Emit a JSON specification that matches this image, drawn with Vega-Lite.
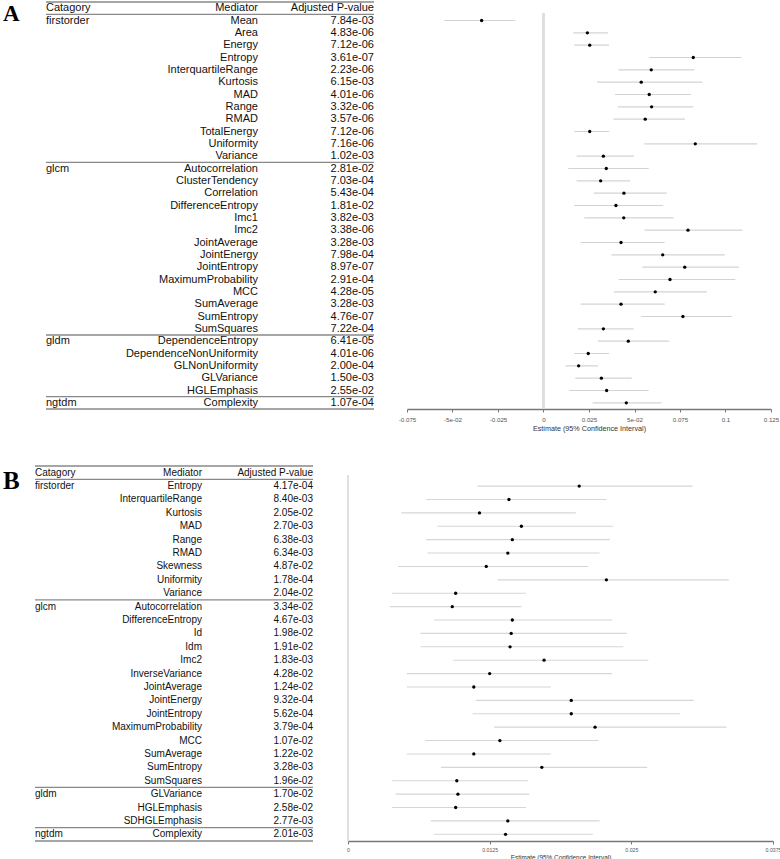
{
  "$schema": "https://vega.github.io/schema/vega-lite/v6.json",
  "padding": {"left": 2, "top": 1, "right": 0, "bottom": 0},
  "background": "white",
  "config": {"view": {"stroke": null}, "font": "Liberation Sans"},
  "datasets": {
    "A": [
      {"row": 1, "cat": "firstorder", "med": "Mean", "p": "7.84e-03", "est": -0.034, "lo": -0.0545, "hi": -0.0155},
      {"row": 2, "cat": "", "med": "Area", "p": "4.83e-06", "est": 0.0241, "lo": 0.0164, "hi": 0.0354},
      {"row": 3, "cat": "", "med": "Energy", "p": "7.12e-06", "est": 0.0254, "lo": 0.0169, "hi": 0.036},
      {"row": 4, "cat": "", "med": "Entropy", "p": "3.61e-07", "est": 0.0823, "lo": 0.0581, "hi": 0.1087},
      {"row": 5, "cat": "", "med": "InterquartileRange", "p": "2.23e-06", "est": 0.0592, "lo": 0.0411, "hi": 0.0829},
      {"row": 6, "cat": "", "med": "Kurtosis", "p": "6.15e-03", "est": 0.0537, "lo": 0.0294, "hi": 0.0873},
      {"row": 7, "cat": "", "med": "MAD", "p": "4.01e-06", "est": 0.0581, "lo": 0.0393, "hi": 0.081},
      {"row": 8, "cat": "", "med": "Range", "p": "3.32e-06", "est": 0.0594, "lo": 0.0408, "hi": 0.0823},
      {"row": 9, "cat": "", "med": "RMAD", "p": "3.57e-06", "est": 0.0559, "lo": 0.0384, "hi": 0.0777},
      {"row": 10, "cat": "", "med": "TotalEnergy", "p": "7.12e-06", "est": 0.0254, "lo": 0.0169, "hi": 0.036},
      {"row": 11, "cat": "", "med": "Uniformity", "p": "7.16e-06", "est": 0.0834, "lo": 0.0554, "hi": 0.1173},
      {"row": 12, "cat": "", "med": "Variance", "p": "1.02e-03", "est": 0.0329, "lo": 0.0182, "hi": 0.0497},
      {"row": 13, "cat": "glcm", "med": "Autocorrelation", "p": "2.81e-02", "est": 0.0345, "lo": 0.0136, "hi": 0.0578},
      {"row": 14, "cat": "", "med": "ClusterTendency", "p": "7.03e-04", "est": 0.0314, "lo": 0.0182, "hi": 0.0477},
      {"row": 15, "cat": "", "med": "Correlation", "p": "5.43e-04", "est": 0.0442, "lo": 0.0277, "hi": 0.0677},
      {"row": 16, "cat": "", "med": "DifferenceEntropy", "p": "1.81e-02", "est": 0.0398, "lo": 0.0168, "hi": 0.0658},
      {"row": 17, "cat": "", "med": "Imc1", "p": "3.82e-03", "est": 0.0441, "lo": 0.0224, "hi": 0.0715},
      {"row": 18, "cat": "", "med": "Imc2", "p": "3.38e-06", "est": 0.0794, "lo": 0.0556, "hi": 0.1094},
      {"row": 19, "cat": "", "med": "JointAverage", "p": "3.28e-03", "est": 0.0426, "lo": 0.0204, "hi": 0.0666},
      {"row": 20, "cat": "", "med": "JointEnergy", "p": "7.98e-04", "est": 0.0655, "lo": 0.0373, "hi": 0.0996},
      {"row": 21, "cat": "", "med": "JointEntropy", "p": "8.97e-07", "est": 0.0776, "lo": 0.0543, "hi": 0.1074},
      {"row": 22, "cat": "", "med": "MaximumProbability", "p": "2.91e-04", "est": 0.0695, "lo": 0.0413, "hi": 0.1054},
      {"row": 23, "cat": "", "med": "MCC", "p": "4.28e-05", "est": 0.0614, "lo": 0.0386, "hi": 0.0898},
      {"row": 24, "cat": "", "med": "SumAverage", "p": "3.28e-03", "est": 0.0426, "lo": 0.0204, "hi": 0.0666},
      {"row": 25, "cat": "", "med": "SumEntropy", "p": "4.76e-07", "est": 0.0766, "lo": 0.0537, "hi": 0.1037},
      {"row": 26, "cat": "", "med": "SumSquares", "p": "7.22e-04", "est": 0.0329, "lo": 0.0188, "hi": 0.0495},
      {"row": 27, "cat": "gldm", "med": "DependenceEntropy", "p": "6.41e-05", "est": 0.0466, "lo": 0.0299, "hi": 0.0691},
      {"row": 28, "cat": "", "med": "DependenceNonUniformity", "p": "4.01e-06", "est": 0.0246, "lo": 0.0168, "hi": 0.036},
      {"row": 29, "cat": "", "med": "GLNonUniformity", "p": "2.00e-04", "est": 0.0193, "lo": 0.012, "hi": 0.0299},
      {"row": 30, "cat": "", "med": "GLVariance", "p": "1.50e-03", "est": 0.0318, "lo": 0.0175, "hi": 0.0485},
      {"row": 31, "cat": "", "med": "HGLEmphasis", "p": "2.55e-02", "est": 0.0347, "lo": 0.0142, "hi": 0.0578},
      {"row": 32, "cat": "ngtdm", "med": "Complexity", "p": "1.07e-04", "est": 0.0455, "lo": 0.027, "hi": 0.0649}
    ],
    "B": [
      {"row": 1, "cat": "firstorder", "med": "Entropy", "p": "4.17e-04", "est": 0.0204, "lo": 0.0114, "hi": 0.0304},
      {"row": 2, "cat": "", "med": "InterquartileRange", "p": "8.40e-03", "est": 0.0142, "lo": 0.0069, "hi": 0.0228},
      {"row": 3, "cat": "", "med": "Kurtosis", "p": "2.05e-02", "est": 0.0116, "lo": 0.0047, "hi": 0.0201},
      {"row": 4, "cat": "", "med": "MAD", "p": "2.70e-03", "est": 0.0153, "lo": 0.0079, "hi": 0.0234},
      {"row": 5, "cat": "", "med": "Range", "p": "6.38e-03", "est": 0.0145, "lo": 0.0069, "hi": 0.0231},
      {"row": 6, "cat": "", "med": "RMAD", "p": "6.34e-03", "est": 0.0141, "lo": 0.007, "hi": 0.0222},
      {"row": 7, "cat": "", "med": "Skewness", "p": "4.87e-02", "est": 0.0122, "lo": 0.0044, "hi": 0.0212},
      {"row": 8, "cat": "", "med": "Uniformity", "p": "1.78e-04", "est": 0.0228, "lo": 0.0132, "hi": 0.0336},
      {"row": 9, "cat": "", "med": "Variance", "p": "2.04e-02", "est": 0.0095, "lo": 0.0039, "hi": 0.0157},
      {"row": 10, "cat": "glcm", "med": "Autocorrelation", "p": "3.34e-02", "est": 0.0092, "lo": 0.0037, "hi": 0.0153},
      {"row": 11, "cat": "", "med": "DifferenceEntropy", "p": "4.67e-03", "est": 0.0145, "lo": 0.0076, "hi": 0.0233},
      {"row": 12, "cat": "", "med": "Id", "p": "1.98e-02", "est": 0.0144, "lo": 0.0064, "hi": 0.0246},
      {"row": 13, "cat": "", "med": "Idm", "p": "1.91e-02", "est": 0.0143, "lo": 0.0064, "hi": 0.0243},
      {"row": 14, "cat": "", "med": "Imc2", "p": "1.83e-03", "est": 0.0173, "lo": 0.0093, "hi": 0.0265},
      {"row": 15, "cat": "", "med": "InverseVariance", "p": "4.28e-02", "est": 0.0125, "lo": 0.0052, "hi": 0.0233},
      {"row": 16, "cat": "", "med": "JointAverage", "p": "1.24e-02", "est": 0.0111, "lo": 0.0052, "hi": 0.0179},
      {"row": 17, "cat": "", "med": "JointEnergy", "p": "9.32e-04", "est": 0.0197, "lo": 0.0113, "hi": 0.0305},
      {"row": 18, "cat": "", "med": "JointEntropy", "p": "5.62e-04", "est": 0.0197, "lo": 0.011, "hi": 0.0293},
      {"row": 19, "cat": "", "med": "MaximumProbability", "p": "3.79e-04", "est": 0.0218, "lo": 0.0129, "hi": 0.0334},
      {"row": 20, "cat": "", "med": "MCC", "p": "1.07e-02", "est": 0.0134, "lo": 0.0068, "hi": 0.0221},
      {"row": 21, "cat": "", "med": "SumAverage", "p": "1.22e-02", "est": 0.0111, "lo": 0.0052, "hi": 0.0179},
      {"row": 22, "cat": "", "med": "SumEntropy", "p": "3.28e-03", "est": 0.0171, "lo": 0.0082, "hi": 0.0264},
      {"row": 23, "cat": "", "med": "SumSquares", "p": "1.96e-02", "est": 0.0096, "lo": 0.0039, "hi": 0.0159},
      {"row": 24, "cat": "gldm", "med": "GLVariance", "p": "1.70e-02", "est": 0.0097, "lo": 0.0042, "hi": 0.016},
      {"row": 25, "cat": "", "med": "HGLEmphasis", "p": "2.58e-02", "est": 0.0095, "lo": 0.0039, "hi": 0.0157},
      {"row": 26, "cat": "", "med": "SDHGLEmphasis", "p": "2.77e-03", "est": 0.0141, "lo": 0.0073, "hi": 0.0222},
      {"row": 27, "cat": "ngtdm", "med": "Complexity", "p": "2.01e-03", "est": 0.0139, "lo": 0.0076, "hi": 0.0216}
    ],
    "sepA": [{"y": -0.5}, {"y": 0.5}, {"y": 12.5}, {"y": 26.5}, {"y": 31.5}, {"y": 32.5}],
    "sepB": [{"y": -0.5}, {"y": 0.5}, {"y": 9.5}, {"y": 23.5}, {"y": 26.5}, {"y": 27.5}]
  },
  "bounds": "full",
  "spacing": 33,
  "resolve": {"scale": {"x": "independent", "y": "independent"}},
  "vconcat": [
    {
      "bounds": "flush",
      "spacing": 33,
      "resolve": {"scale": {"x": "independent", "y": "independent"}},
      "hconcat": [
        {
          "width": 339,
          "height": 407,
          "layer": [
            {
              "data": {"name": "sepA"},
              "mark": {"type": "rule", "stroke": "#888888", "strokeWidth": 1.3},
              "encoding": {
                "y": {"field": "y", "type": "quantitative", "scale": {"domain": [-0.5, 32.5], "reverse": true, "nice": false, "zero": false}, "axis": null},
                "x": {"datum": 0.0324, "type": "quantitative", "scale": {"domain": [0, 1], "nice": false, "zero": false}, "axis": null},
                "x2": {"datum": 1}
              }
            },
            {
              "data": {"name": "A"},
              "mark": {"type": "text", "align": "left", "baseline": "middle", "fontSize": 11, "color": "#111111"},
              "encoding": {
                "y": {"field": "row", "type": "quantitative", "scale": {"domain": [-0.5, 32.5], "reverse": true, "nice": false, "zero": false}, "axis": null},
                "x": {"datum": 0.0324, "type": "quantitative", "scale": {"domain": [0, 1], "nice": false, "zero": false}, "axis": null},
                "text": {"field": "cat"}
              }
            },
            {
              "data": {"name": "A"},
              "mark": {"type": "text", "align": "right", "baseline": "middle", "fontSize": 11, "color": "#111111"},
              "encoding": {
                "y": {"field": "row", "type": "quantitative", "scale": {"domain": [-0.5, 32.5], "reverse": true, "nice": false, "zero": false}, "axis": null},
                "x": {"datum": 0.6578, "type": "quantitative", "scale": {"domain": [0, 1], "nice": false, "zero": false}, "axis": null},
                "text": {"field": "med"}
              }
            },
            {
              "data": {"name": "A"},
              "mark": {"type": "text", "align": "right", "baseline": "middle", "fontSize": 11, "color": "#111111"},
              "encoding": {
                "y": {"field": "row", "type": "quantitative", "scale": {"domain": [-0.5, 32.5], "reverse": true, "nice": false, "zero": false}, "axis": null},
                "x": {"datum": 1, "type": "quantitative", "scale": {"domain": [0, 1], "nice": false, "zero": false}, "axis": null},
                "text": {"field": "p"}
              }
            },
            {
              "data": {"values": [{"h": "Catagory"}]},
              "mark": {"type": "text", "align": "left", "baseline": "middle", "fontSize": 11, "color": "#111111"},
              "encoding": {
                "y": {"datum": 0, "type": "quantitative", "scale": {"domain": [-0.5, 32.5], "reverse": true, "nice": false, "zero": false}, "axis": null},
                "x": {"datum": 0.0324, "type": "quantitative", "scale": {"domain": [0, 1], "nice": false, "zero": false}, "axis": null},
                "text": {"value": "Catagory"}
              }
            },
            {
              "data": {"values": [{"h": "Mediator"}]},
              "mark": {"type": "text", "align": "right", "baseline": "middle", "fontSize": 11, "color": "#111111"},
              "encoding": {
                "y": {"datum": 0, "type": "quantitative", "scale": {"domain": [-0.5, 32.5], "reverse": true, "nice": false, "zero": false}, "axis": null},
                "x": {"datum": 0.6578, "type": "quantitative", "scale": {"domain": [0, 1], "nice": false, "zero": false}, "axis": null},
                "text": {"value": "Mediator"}
              }
            },
            {
              "data": {"values": [{"h": "Adjusted P-value"}]},
              "mark": {"type": "text", "align": "right", "baseline": "middle", "fontSize": 11, "color": "#111111"},
              "encoding": {
                "y": {"datum": 0, "type": "quantitative", "scale": {"domain": [-0.5, 32.5], "reverse": true, "nice": false, "zero": false}, "axis": null},
                "x": {"datum": 1, "type": "quantitative", "scale": {"domain": [0, 1], "nice": false, "zero": false}, "axis": null},
                "text": {"value": "Adjusted P-value"}
              }
            },
            {
              "data": {"values": [{"h": "A"}]},
              "mark": {"type": "text", "align": "left", "baseline": "alphabetic", "fontSize": 23, "font": "Liberation Serif", "fontWeight": "bold", "color": "#000000"},
              "encoding": {
                "y": {"datum": 1, "type": "quantitative", "scale": {"domain": [-0.5, 32.5], "reverse": true, "nice": false, "zero": false}, "axis": null},
                "x": {"datum": -0.0944, "type": "quantitative", "scale": {"domain": [0, 1], "nice": false, "zero": false}, "axis": null},
                "text": {"value": "A"}
              }
            }
          ]
        },
        {
          "width": 364,
          "height": 407,
          "data": {"name": "A"},
          "layer": [
            {
              "mark": {"type": "rule", "stroke": "#dddddd", "strokeWidth": 1.5},
              "encoding": {
                "x": {"datum": 0, "type": "quantitative", "scale": {"domain": [-0.075, 0.125], "nice": false, "zero": false},
                  "axis": {"values": [-0.075, -0.05, -0.025, 0, 0.025, 0.05, 0.075, 0.1, 0.125], "labelExpr": "datum.value == 0.05 ? '5e-02' : datum.value == -0.05 ? '-5e-02' : '' + datum.value", "title": "Estimate (95% Confidence Interval)", "grid": false, "tickSize": 3, "domainColor": "#777777", "domainWidth": 1.3, "tickColor": "#777777", "labelColor": "#555555", "labelFontSize": 6.2, "labelPadding": 4, "titleFontSize": 7.2, "titleFontWeight": "normal", "titleColor": "#333333", "titlePadding": 2, "labelFlush": false, "labelOverlap": false}},
                "y": {"datum": 0.45, "type": "quantitative", "scale": {"domain": [-0.5, 32.5], "reverse": true, "nice": false, "zero": false}, "axis": null},
                "y2": {"datum": 32.5}
              }
            },
            {
              "mark": {"type": "rule", "stroke": "#d3d3d3", "strokeWidth": 1.1},
              "encoding": {
                "x": {"field": "lo", "type": "quantitative", "scale": {"domain": [-0.075, 0.125], "nice": false, "zero": false},
                  "axis": {"values": [-0.075, -0.05, -0.025, 0, 0.025, 0.05, 0.075, 0.1, 0.125], "labelExpr": "datum.value == 0.05 ? '5e-02' : datum.value == -0.05 ? '-5e-02' : '' + datum.value", "title": "Estimate (95% Confidence Interval)", "grid": false, "tickSize": 3, "domainColor": "#777777", "domainWidth": 1.3, "tickColor": "#777777", "labelColor": "#555555", "labelFontSize": 6.2, "labelPadding": 4, "titleFontSize": 7.2, "titleFontWeight": "normal", "titleColor": "#333333", "titlePadding": 2, "labelFlush": false, "labelOverlap": false}},
                "x2": {"field": "hi"},
                "y": {"field": "row", "type": "quantitative", "scale": {"domain": [-0.5, 32.5], "reverse": true, "nice": false, "zero": false}, "axis": null}
              }
            },
            {
              "mark": {"type": "point", "filled": true, "shape": "circle", "size": 11, "color": "#000000", "opacity": 1},
              "encoding": {
                "x": {"field": "est", "type": "quantitative", "scale": {"domain": [-0.075, 0.125], "nice": false, "zero": false},
                  "axis": {"values": [-0.075, -0.05, -0.025, 0, 0.025, 0.05, 0.075, 0.1, 0.125], "labelExpr": "datum.value == 0.05 ? '5e-02' : datum.value == -0.05 ? '-5e-02' : '' + datum.value", "title": "Estimate (95% Confidence Interval)", "grid": false, "tickSize": 3, "domainColor": "#777777", "domainWidth": 1.3, "tickColor": "#777777", "labelColor": "#555555", "labelFontSize": 6.2, "labelPadding": 4, "titleFontSize": 7.2, "titleFontWeight": "normal", "titleColor": "#333333", "titlePadding": 2, "labelFlush": false, "labelOverlap": false}},
                "y": {"field": "row", "type": "quantitative", "scale": {"domain": [-0.5, 32.5], "reverse": true, "nice": false, "zero": false}, "axis": null}
              }
            }
          ]
        }
      ]
    },
    {
      "bounds": "flush",
      "spacing": 35,
      "resolve": {"scale": {"x": "independent", "y": "independent"}},
      "hconcat": [
        {
          "width": 278,
          "height": 375,
          "layer": [
            {
              "data": {"name": "sepB"},
              "mark": {"type": "rule", "stroke": "#888888", "strokeWidth": 1.3},
              "encoding": {
                "y": {"field": "y", "type": "quantitative", "scale": {"domain": [-0.5, 27.5], "reverse": true, "nice": false, "zero": false}, "axis": null},
                "x": {"datum": 0, "type": "quantitative", "scale": {"domain": [0, 1], "nice": false, "zero": false}, "axis": null},
                "x2": {"datum": 1}
              }
            },
            {
              "data": {"name": "B"},
              "mark": {"type": "text", "align": "left", "baseline": "middle", "fontSize": 10, "color": "#111111"},
              "encoding": {
                "y": {"field": "row", "type": "quantitative", "scale": {"domain": [-0.5, 27.5], "reverse": true, "nice": false, "zero": false}, "axis": null},
                "x": {"datum": 0, "type": "quantitative", "scale": {"domain": [0, 1], "nice": false, "zero": false}, "axis": null},
                "text": {"field": "cat"}
              }
            },
            {
              "data": {"name": "B"},
              "mark": {"type": "text", "align": "right", "baseline": "middle", "fontSize": 10, "color": "#111111"},
              "encoding": {
                "y": {"field": "row", "type": "quantitative", "scale": {"domain": [-0.5, 27.5], "reverse": true, "nice": false, "zero": false}, "axis": null},
                "x": {"datum": 0.6007, "type": "quantitative", "scale": {"domain": [0, 1], "nice": false, "zero": false}, "axis": null},
                "text": {"field": "med"}
              }
            },
            {
              "data": {"name": "B"},
              "mark": {"type": "text", "align": "right", "baseline": "middle", "fontSize": 10, "color": "#111111"},
              "encoding": {
                "y": {"field": "row", "type": "quantitative", "scale": {"domain": [-0.5, 27.5], "reverse": true, "nice": false, "zero": false}, "axis": null},
                "x": {"datum": 1, "type": "quantitative", "scale": {"domain": [0, 1], "nice": false, "zero": false}, "axis": null},
                "text": {"field": "p"}
              }
            },
            {
              "data": {"values": [{"h": "Catagory"}]},
              "mark": {"type": "text", "align": "left", "baseline": "middle", "fontSize": 10, "color": "#111111"},
              "encoding": {
                "y": {"datum": 0, "type": "quantitative", "scale": {"domain": [-0.5, 27.5], "reverse": true, "nice": false, "zero": false}, "axis": null},
                "x": {"datum": 0, "type": "quantitative", "scale": {"domain": [0, 1], "nice": false, "zero": false}, "axis": null},
                "text": {"value": "Catagory"}
              }
            },
            {
              "data": {"values": [{"h": "Mediator"}]},
              "mark": {"type": "text", "align": "right", "baseline": "middle", "fontSize": 10, "color": "#111111"},
              "encoding": {
                "y": {"datum": 0, "type": "quantitative", "scale": {"domain": [-0.5, 27.5], "reverse": true, "nice": false, "zero": false}, "axis": null},
                "x": {"datum": 0.6007, "type": "quantitative", "scale": {"domain": [0, 1], "nice": false, "zero": false}, "axis": null},
                "text": {"value": "Mediator"}
              }
            },
            {
              "data": {"values": [{"h": "Adjusted P-value"}]},
              "mark": {"type": "text", "align": "right", "baseline": "middle", "fontSize": 10, "color": "#111111"},
              "encoding": {
                "y": {"datum": 0, "type": "quantitative", "scale": {"domain": [-0.5, 27.5], "reverse": true, "nice": false, "zero": false}, "axis": null},
                "x": {"datum": 1, "type": "quantitative", "scale": {"domain": [0, 1], "nice": false, "zero": false}, "axis": null},
                "text": {"value": "Adjusted P-value"}
              }
            },
            {
              "data": {"values": [{"h": "B"}]},
              "mark": {"type": "text", "align": "left", "baseline": "alphabetic", "fontSize": 25, "font": "Liberation Serif", "fontWeight": "bold", "color": "#000000"},
              "encoding": {
                "y": {"datum": 1.2, "type": "quantitative", "scale": {"domain": [-0.5, 27.5], "reverse": true, "nice": false, "zero": false}, "axis": null},
                "x": {"datum": -0.1151, "type": "quantitative", "scale": {"domain": [0, 1], "nice": false, "zero": false}, "axis": null},
                "text": {"value": "B"}
              }
            }
          ]
        },
        {
          "width": 425,
          "height": 375,
          "data": {"name": "B"},
          "layer": [
            {
              "mark": {"type": "rule", "stroke": "#e0e0e0", "strokeWidth": 1.1},
              "encoding": {
                "x": {"datum": 0, "type": "quantitative", "scale": {"domain": [0, 0.0375], "nice": false, "zero": false},
                  "axis": {"values": [0, 0.0125, 0.025, 0.0375], "labelExpr": "'' + datum.value", "title": "Estimate (95% Confidence Interval)", "grid": false, "tickSize": 3, "domainColor": "#777777", "domainWidth": 1.3, "tickColor": "#777777", "labelColor": "#555555", "labelFontSize": 5.2, "labelPadding": 3, "titleFontSize": 6.4, "titleFontWeight": "normal", "titleColor": "#333333", "titlePadding": 2, "labelFlush": false, "labelOverlap": false}},
                "y": {"datum": 0.2, "type": "quantitative", "scale": {"domain": [-0.5, 27.5], "reverse": true, "nice": false, "zero": false}, "axis": null},
                "y2": {"datum": 27.5}
              }
            },
            {
              "mark": {"type": "rule", "stroke": "#d6d6d6", "strokeWidth": 1.1},
              "encoding": {
                "x": {"field": "lo", "type": "quantitative", "scale": {"domain": [0, 0.0375], "nice": false, "zero": false},
                  "axis": {"values": [0, 0.0125, 0.025, 0.0375], "labelExpr": "'' + datum.value", "title": "Estimate (95% Confidence Interval)", "grid": false, "tickSize": 3, "domainColor": "#777777", "domainWidth": 1.3, "tickColor": "#777777", "labelColor": "#555555", "labelFontSize": 5.2, "labelPadding": 3, "titleFontSize": 6.4, "titleFontWeight": "normal", "titleColor": "#333333", "titlePadding": 2, "labelFlush": false, "labelOverlap": false}},
                "x2": {"field": "hi"},
                "y": {"field": "row", "type": "quantitative", "scale": {"domain": [-0.5, 27.5], "reverse": true, "nice": false, "zero": false}, "axis": null}
              }
            },
            {
              "mark": {"type": "point", "filled": true, "shape": "circle", "size": 11, "color": "#000000", "opacity": 1},
              "encoding": {
                "x": {"field": "est", "type": "quantitative", "scale": {"domain": [0, 0.0375], "nice": false, "zero": false},
                  "axis": {"values": [0, 0.0125, 0.025, 0.0375], "labelExpr": "'' + datum.value", "title": "Estimate (95% Confidence Interval)", "grid": false, "tickSize": 3, "domainColor": "#777777", "domainWidth": 1.3, "tickColor": "#777777", "labelColor": "#555555", "labelFontSize": 5.2, "labelPadding": 3, "titleFontSize": 6.4, "titleFontWeight": "normal", "titleColor": "#333333", "titlePadding": 2, "labelFlush": false, "labelOverlap": false}},
                "y": {"field": "row", "type": "quantitative", "scale": {"domain": [-0.5, 27.5], "reverse": true, "nice": false, "zero": false}, "axis": null}
              }
            }
          ]
        }
      ]
    }
  ]
}
